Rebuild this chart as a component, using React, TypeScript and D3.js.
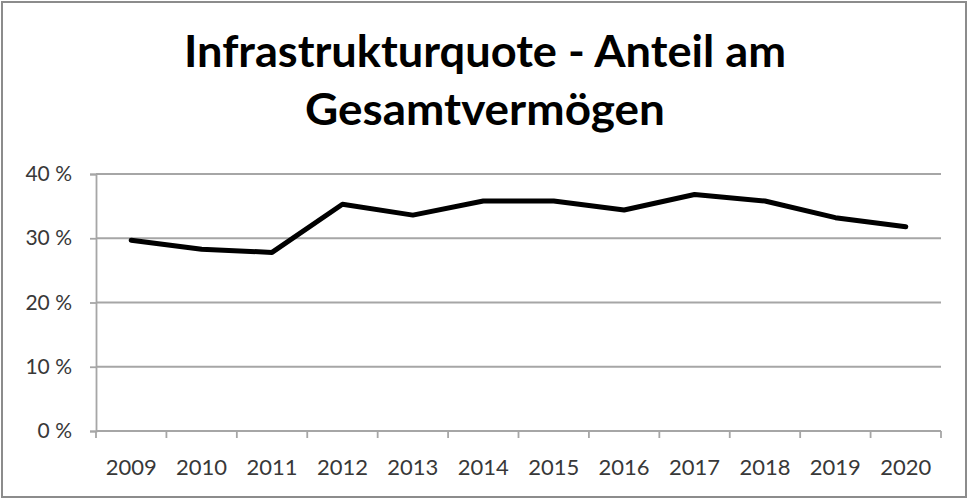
import { useEffect, useRef } from 'react';
import * as d3 from 'd3';

const years = ['2009', '2010', '2011', '2012', '2013', '2014', '2015', '2016', '2017', '2018', '2019', '2020'];
const quote = [29.7, 28.3, 27.8, 35.3, 33.6, 35.8, 35.8, 34.4, 36.8, 35.8, 33.2, 31.8];
const yTicks = [0, 10, 20, 30, 40];
const titleLines = ['Infrastrukturquote - Anteil am', 'Gesamtvermögen'];

export default function App() {
  const svgRef = useRef<SVGSVGElement>(null);

  useEffect(() => {
    if (!svgRef.current) return;
    const svg = d3.select(svgRef.current);
    svg.selectAll('*').remove();

    const width = 971;
    const height = 500;
    const margin = { left: 96, right: 30, top: 174, bottom: 69 };
    const font = 'Lato, "Open Sans", sans-serif';
    const grid = '#a6a6a6';
    const labelColor = '#383838';

    svg.append('rect')
      .attr('width', width)
      .attr('height', height)
      .attr('fill', '#fff');

    // outer frame
    svg.append('rect')
      .attr('x', 2)
      .attr('y', 2)
      .attr('width', 964)
      .attr('height', 495)
      .attr('fill', 'none')
      .attr('stroke', '#8c8c8c')
      .attr('stroke-width', 2);

    // title, two lines squeezed to the original widths
    const titleWidths = [602, 360];
    const titleBase = [67, 125];
    titleLines.forEach((line, i) => {
      svg.append('text')
        .attr('x', 485)
        .attr('y', titleBase[i])
        .attr('text-anchor', 'middle')
        .attr('font-family', font)
        .attr('font-weight', 'bold')
        .attr('font-size', 43)
        .attr('fill', '#000')
        .attr('textLength', titleWidths[i])
        .attr('lengthAdjust', 'spacingAndGlyphs')
        .text(line);
    });

    const x = d3.scaleBand<string>()
      .domain(years)
      .range([margin.left, width - margin.right]);

    const y = d3.scaleLinear()
      .domain([0, 40])
      .range([height - margin.bottom, margin.top]);

    // gridlines
    svg.append('g')
      .selectAll('line')
      .data(yTicks.filter(t => t > 0))
      .join('line')
      .attr('x1', margin.left)
      .attr('x2', width - margin.right)
      .attr('y1', d => y(d))
      .attr('y2', d => y(d))
      .attr('stroke', grid)
      .attr('stroke-width', 1.8);

    // y axis
    const yAxis = svg.append('g')
      .attr('transform', `translate(${margin.left},0)`)
      .call(d3.axisLeft(y).tickValues(yTicks).tickSize(6).tickPadding(18).tickFormat(d => `${d} %`));
    yAxis.select('.domain').attr('stroke', grid).attr('stroke-width', 1.8);
    yAxis.selectAll('.tick line').attr('stroke', grid).attr('stroke-width', 1.8);
    yAxis.selectAll('.tick text')
      .attr('font-family', font)
      .attr('font-size', 21)
      .attr('fill', labelColor);

    // x axis with ticks between categories
    const bottom = height - margin.bottom;
    const xAxis = svg.append('g');
    xAxis.append('line')
      .attr('x1', margin.left)
      .attr('x2', width - margin.right)
      .attr('y1', bottom)
      .attr('y2', bottom)
      .attr('stroke', grid)
      .attr('stroke-width', 1.8);
    const edges = years.map(d => x(d) as number).concat([width - margin.right]);
    xAxis.selectAll('line.tk')
      .data(edges)
      .join('line')
      .attr('class', 'tk')
      .attr('x1', d => d)
      .attr('x2', d => d)
      .attr('y1', bottom)
      .attr('y2', bottom + 7)
      .attr('stroke', grid)
      .attr('stroke-width', 1.8);
    xAxis.selectAll('text')
      .data(years)
      .join('text')
      .attr('x', d => (x(d) as number) + x.bandwidth() / 2)
      .attr('y', 475)
      .attr('text-anchor', 'middle')
      .attr('font-family', font)
      .attr('font-size', 22)
      .attr('fill', labelColor)
      .text(d => d);

    // line
    const line = d3.line<number>()
      .x((_, i) => (x(years[i]) as number) + x.bandwidth() / 2)
      .y(d => y(d));

    svg.append('path')
      .datum(quote)
      .attr('d', line)
      .attr('fill', 'none')
      .attr('stroke', '#000')
      .attr('stroke-width', 5)
      .attr('stroke-linejoin', 'round')
      .attr('stroke-linecap', 'round');
  }, []);

  return (
    <div style={{ position: 'absolute', left: 0, top: 0 }}>
      <svg ref={svgRef} width={971} height={500} style={{ display: 'block' }} />
    </div>
  );
}
